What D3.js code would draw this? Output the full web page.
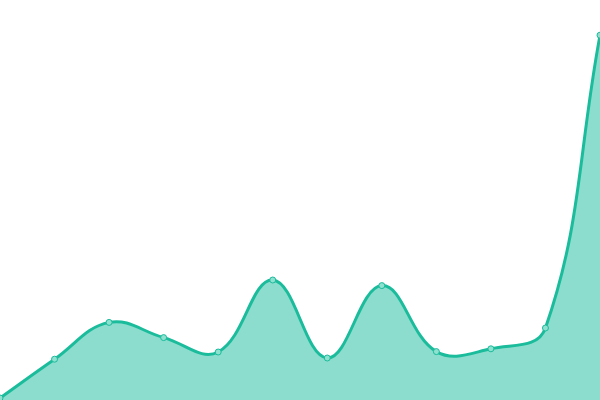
<!DOCTYPE html>
<html>
<head>
<meta charset="utf-8">
<script src="https://cdn.jsdelivr.net/npm/d3@7"></script>
<style>
html,body{margin:0;padding:0;background:#fff;}
svg{display:block;}
</style>
</head>
<body>
<svg id="chart" width="600" height="400"></svg>
<script>
const categories = ["1","2","3","4","5","6","7","8","9","10","11","12"];
const values = [0.5, 10.2, 19.4, 15.6, 12.0, 30.0, 10.5, 28.6, 12.1, 12.8, 18.0, 91.2];

const W = 600, H = 400;
const svg = d3.select("#chart");
const x = d3.scalePoint().domain(categories).range([0, W]);
const y = d3.scaleLinear().domain([0, 100]).range([H, 0]);

// Chart.js-like spline (tension 0.4) as a d3 curve
function chartjsCurve(context) {
  let pts = [];
  return {
    areaStart(){ this._area = true; },
    areaEnd(){ this._area = false; },
    lineStart(){ pts = []; },
    point(px, py){ pts.push([+px, +py]); },
    lineEnd(){
      const n = pts.length, t = 0.4;
      if (!n) return;
      const ctrl = pts.map((c, i) => {
        const p = i > 0 ? pts[i-1] : c;
        const nx = i < n-1 ? pts[i+1] : c;
        const d01 = Math.hypot(c[0]-p[0], c[1]-p[1]);
        const d12 = Math.hypot(nx[0]-c[0], nx[1]-c[1]);
        let s01 = d01/(d01+d12), s12 = d12/(d01+d12);
        if (isNaN(s01)) s01 = 0; if (isNaN(s12)) s12 = 0;
        const fa = t*s01, fb = t*s12;
        return {
          prev: [c[0]-fa*(nx[0]-p[0]), c[1]-fa*(nx[1]-p[1])],
          next: [c[0]+fb*(nx[0]-p[0]), c[1]+fb*(nx[1]-p[1])]
        };
      });
      if (this._area) context.lineTo(pts[0][0], pts[0][1]);
      else context.moveTo(pts[0][0], pts[0][1]);
      for (let i = 1; i < n; i++) {
        context.bezierCurveTo(ctrl[i-1].next[0], ctrl[i-1].next[1], ctrl[i].prev[0], ctrl[i].prev[1], pts[i][0], pts[i][1]);
      }
      if (this._area) context.closePath();
    }
  };
}

const data = categories.map((c, i) => ({c, v: values[i]}));

const area = d3.area()
  .x(d => x(d.c)).y0(H).y1(d => y(d.v))
  .curve(chartjsCurve);
// area with custom curve: draw line part then close to bottom manually
const lineGen = d3.line().x(d => x(d.c)).y(d => y(d.v)).curve(chartjsCurve);
const lineD = lineGen(data);
const areaD = lineD + `L${x(categories[categories.length-1])},${y(0)}L${x(categories[0])},${y(0)}Z`;

svg.append("path").attr("d", areaD).attr("fill", "rgba(26,188,156,0.5)").attr("stroke", "none");
svg.append("path").attr("d", lineD).attr("fill", "none").attr("stroke", "#1abc9c").attr("stroke-width", 3);

svg.selectAll("circle").data(data).join("circle")
  .attr("cx", d => x(d.c)).attr("cy", d => y(d.v)).attr("r", 3)
  .attr("fill", "#8ee0cf").attr("stroke", "#1abc9c").attr("stroke-width", 1);
</script>
</body>
</html>
